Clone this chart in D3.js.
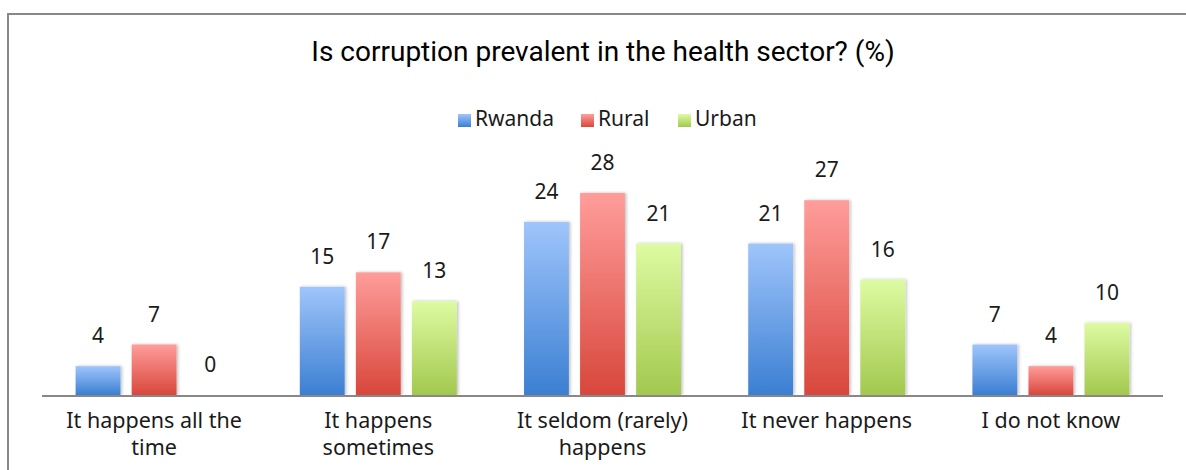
<!DOCTYPE html>
<html>
<head>
<meta charset="utf-8">
<script src="https://cdn.jsdelivr.net/npm/d3@7"></script>
<style>
  body { margin: 0; background: #fff; }
  text { font-family: "Noto Sans", sans-serif; fill: #1a1a1a; }
</style>
</head>
<body>
<svg id="chart" width="1186" height="470"></svg>
<script>
const categories = [
  ["It happens all the", "time"],
  ["It happens", "sometimes"],
  ["It seldom (rarely)", "happens"],
  ["It never happens"],
  ["I do not know"]
];
const seriesNames = ["Rwanda", "Rural", "Urban"];
const rwanda = [4, 15, 24, 21, 7];
const rural = [7, 17, 28, 27, 4];
const urban = [0, 13, 21, 16, 10];
const seriesValues = [rwanda, rural, urban];

const colors = [
  {top: "#9fc5fb", bottom: "#3b7fd2"},
  {top: "#ff9d9b", bottom: "#d8473b"},
  {top: "#ddfba2", bottom: "#a3c84e"}
];

const svg = d3.select("#chart");
const width = 1186, height = 470;
const margin = {left: 42, right: 23, baseline: 395};

// frame
svg.append("rect")
  .attr("x", 8).attr("y", 14)
  .attr("width", width).attr("height", height)
  .attr("fill", "none")
  .attr("stroke", "#888")
  .attr("stroke-width", 2);

const defs = svg.append("defs");
colors.forEach((c, i) => {
  const g = defs.append("linearGradient")
    .attr("id", "grad" + i)
    .attr("x1", 0).attr("y1", 0).attr("x2", 0).attr("y2", 1);
  g.append("stop").attr("offset", "0%").attr("stop-color", c.top);
  g.append("stop").attr("offset", "100%").attr("stop-color", c.bottom);
});
const shadow = defs.append("filter").attr("id", "shadow")
  .attr("x", "-20%").attr("y", "-10%").attr("width", "140%").attr("height", "120%");
shadow.append("feDropShadow")
  .attr("dx", 1.5).attr("dy", 0).attr("stdDeviation", 1.5)
  .attr("flood-color", "#000").attr("flood-opacity", 0.25);

const x0 = d3.scaleBand()
  .domain(d3.range(categories.length))
  .range([margin.left, width - margin.right])
  .paddingInner(0.3).paddingOuter(0.15);

const x1 = d3.scaleBand()
  .domain(d3.range(seriesNames.length))
  .range([0, x0.bandwidth()])
  .paddingInner(0.2);

const y = d3.scaleLinear()
  .domain([0, 28])
  .range([margin.baseline, 193]);

// title
svg.append("text")
  .attr("x", 603).attr("y", 61)
  .attr("text-anchor", "middle")
  .style("font-family", "Roboto, sans-serif")
  .style("font-size", "28px")
  .style("fill", "#000")
  .text("Is corruption prevalent in the health sector? (%)");

// legend
const legendX = [458, 581, 678];
const legend = svg.append("g");
seriesNames.forEach((name, i) => {
  const g = legend.append("g").attr("transform", `translate(${legendX[i]},118)`);
  g.append("rect").attr("x", 0).attr("y", -4).attr("width", 13).attr("height", 13)
    .attr("fill", `url(#grad${i})`);
  g.append("text").attr("x", 17).attr("y", 8)
    .style("font-size", "21px")
    .text(name);
});

// bars
const groups = svg.append("g").selectAll("g")
  .data(categories)
  .join("g")
  .attr("transform", (d, i) => `translate(${x0(i)},0)`);

groups.selectAll("rect")
  .data((d, i) => seriesValues.map((s, k) => ({k, v: s[i]})))
  .join("rect")
  .attr("x", d => x1(d.k))
  .attr("y", d => y(d.v))
  .attr("width", x1.bandwidth())
  .attr("height", d => y(0) - y(d.v))
  .attr("fill", d => `url(#grad${d.k})`)
  .attr("filter", "url(#shadow)");

groups.selectAll("text.val")
  .data((d, i) => seriesValues.map((s, k) => ({k, v: s[i]})))
  .join("text")
  .attr("class", "val")
  .attr("x", d => x1(d.k) + x1.bandwidth() / 2)
  .attr("y", d => y(d.v) - 23)
  .attr("text-anchor", "middle")
  .style("font-size", "21px")
  .text(d => d.v);

// axis
svg.append("line")
  .attr("x1", margin.left).attr("x2", width - margin.right)
  .attr("y1", y(0) + 1).attr("y2", y(0) + 1)
  .attr("stroke", "#888").attr("stroke-width", 2);

svg.append("g").selectAll("text")
  .data(categories)
  .join("text")
  .attr("text-anchor", "middle")
  .attr("transform", (d, i) => `translate(${x0(i) + x0.bandwidth() / 2},428)`)
  .style("font-size", "21.5px")
  .selectAll("tspan")
  .data(d => d)
  .join("tspan")
  .attr("x", 0)
  .attr("dy", (d, i) => i === 0 ? 0 : 27)
  .text(d => d);
</script>
</body>
</html>
